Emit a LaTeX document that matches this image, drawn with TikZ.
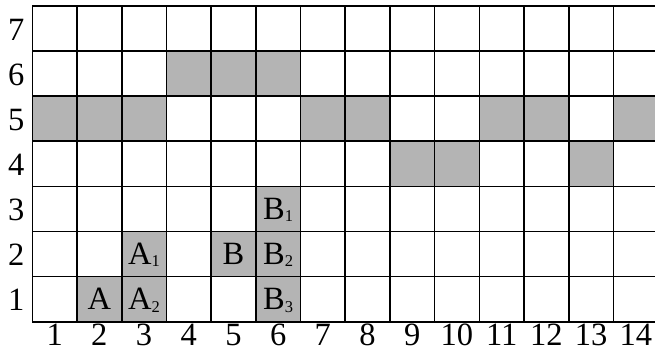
\documentclass[tikz,border=0pt]{standalone}
\usepackage{fontspec}
\setmainfont{Liberation Serif}
\newcommand\mysub[1]{\raisebox{-2.5pt}{\fontsize{16.5}{16.5}\selectfont #1}}
\definecolor{cellgray}{HTML}{B4B4B4}
\tikzset{
  gridline/.style={line width=1.6pt,black},
  shaded/.style={fill=cellgray},
  axislabel/.style={inner sep=0pt,anchor=base,font=\fontsize{32.5}{32.5}\selectfont},
  celllabel/.style={inner sep=0pt,anchor=base,font=\fontsize{32.5}{32.5}\selectfont},
}
\begin{document}
\begin{tikzpicture}[x=1pt,y=1pt]
\useasboundingbox (0,0) rectangle (655,348);
\clip (0,0) rectangle (655,348);
\fill[white] (0,0) rectangle (655,348);
\begin{scope}[shift={(32.3pt,26.3pt)},x=44.7pt,y=45.1pt]
  % shaded cells (col,row)
  \foreach \c/\r in {4/6,5/6,6/6,
                     1/5,2/5,3/5,7/5,8/5,11/5,12/5,14/5,
                     9/4,10/4,13/4,
                     6/3,
                     3/2,5/2,6/2,
                     2/1,3/1,6/1}
    \fill[shaded] (\c-1,\r-1) rectangle (\c,\r);
  \foreach \c in {0,...,14}
    \draw[gridline] (\c,0) -- (\c,7);
  \foreach \r in {0,...,7}
    \draw[gridline] (0,\r) -- (14,\r);
  % axis labels
  \foreach \c in {1,...,14}
    \node[axislabel] (col\c) at (\c-0.5,-0.52) {\c};
  \foreach \r in {1,...,7}
    \node[axislabel] (row\r) at (-0.36,\r-0.76) {\r};
  % cell labels
  \node[celllabel] (lA)  at (1.5,0.27) {A};
  \node[celllabel] (lA2) at (2.5,0.27) {A\mysub{2}};
  \node[celllabel] (lA1) at (2.5,1.27) {A\mysub{1}};
  \node[celllabel] (lB)  at (4.5,1.27) {B};
  \node[celllabel] (lB1) at (5.5,2.27) {B\mysub{1}};
  \node[celllabel] (lB2) at (5.5,1.27) {B\mysub{2}};
  \node[celllabel] (lB3) at (5.5,0.27) {B\mysub{3}};
\end{scope}
\end{tikzpicture}
\end{document}
